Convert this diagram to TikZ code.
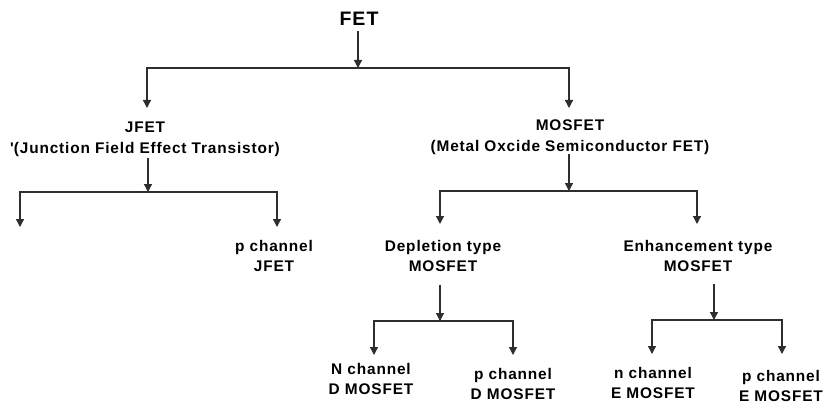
\documentclass[tikz,border=0pt]{standalone}
\usepackage{fontspec}
\setmainfont{Liberation Sans}[LetterSpace=5.5]
\font\aposfont="Liberation Sans/B" at 15.4pt
\usetikzlibrary{arrows.meta,calc}
\definecolor{lc}{HTML}{2E2E2E}
\begin{document}
\begin{tikzpicture}[x=1pt,y=-1pt,
  lbl/.style={font=\bfseries\fontsize{15.4}{20.5}\selectfont, align=center, inner sep=0pt, outer sep=0pt, anchor=north},
  conn/.style={draw=lc, line width=1.3pt},
  arr/.style={conn, -{Triangle[length=8pt,width=8pt]}}]
\useasboundingbox[fill=white] (0,0) rectangle (823,404);

% nodes
\node[lbl, font=\bfseries\fontsize{19.5}{24}\selectfont] (fet) at (359,12) {FET};
\node[lbl] (jfet) at (145,122) {JFET\\{\aposfont'}(Junction Field Effect Transistor)};
\node[lbl] (mosfet) at (570,120) {MOSFET\\(Metal Oxcide Semiconductor FET)};
\node[lbl] (pjfet) at (274,240) {p channel\\JFET};
\node[lbl] (dep) at (443,240) {Depletion type\\MOSFET};
\node[lbl] (enh) at (698,240) {Enhancement type\\MOSFET};
\node[lbl] (nd) at (371,363) {N channel\\D MOSFET};
\node[lbl] (pd) at (513,368) {p channel\\D MOSFET};
\node[lbl] (ne) at (653,367) {n channel\\E MOSFET};
\node[lbl] (pe) at (781,370) {p channel\\E MOSFET};

% junctions and the free end
\coordinate (j0) at (358,68);
\coordinate (j1) at (148,192);
\coordinate (j2) at (569,191);
\coordinate (j3) at (440,321);
\coordinate (j4) at (714,320);
\coordinate (nleft) at (20,227);

% FET
\draw[arr, shorten <=6pt] (fet.south -| j0) -- (j0);
\draw[arr] (j0) -| ([xshift=2pt,yshift=14pt]jfet.north);
\draw[arr] (j0) -| ([xshift=-1pt,yshift=12pt]mosfet.north);

% JFET
\draw[arr, shorten <=2pt] (jfet.south -| j1) -- (j1);
\draw[arr] (j1) -| (nleft);
\draw[arr] (j1) -| ([xshift=3pt,yshift=13pt]pjfet.north);

% MOSFET
\draw[arr] (mosfet.south -| j2) -- (j2);
\draw[arr] (j2) -| ([xshift=-3pt,yshift=16pt]dep.north);
\draw[arr] (j2) -| ([xshift=-1pt,yshift=16pt]enh.north);

% Depletion
\draw[arr, shorten <=13pt] (dep.south -| j3) -- (j3);
\draw[arr] (j3) -| ([xshift=3pt,yshift=8pt]nd.north);
\draw[arr] (j3) -| ([yshift=13pt]pd.north);

% Enhancement
\draw[arr, shorten <=12pt] (enh.south -| j4) -- (j4);
\draw[arr] (j4) -| ([xshift=-1pt,yshift=13pt]ne.north);
\draw[arr] (j4) -| ([xshift=1pt,yshift=16pt]pe.north);
\end{tikzpicture}
\end{document}
